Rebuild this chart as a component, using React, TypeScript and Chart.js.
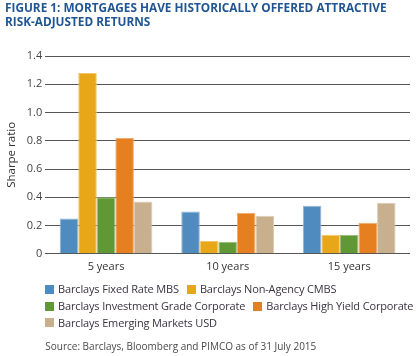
import React, { useEffect, useRef } from "react";
import { Chart, registerables } from "chart.js";

Chart.register(...registerables);

const categories = ["5 years", "10 years", "15 years"];
const seriesNames = [
  "Barclays Fixed Rate MBS",
  "Barclays Non-Agency CMBS",
  "Barclays Investment Grade Corporate",
  "Barclays High Yield Corporate",
  "Barclays Emerging Markets USD",
];
const fixedRateMBS = [0.25, 0.3, 0.34];
const nonAgencyCMBS = [1.28, 0.09, 0.135];
const investmentGradeCorp = [0.4, 0.085, 0.135];
const highYieldCorp = [0.82, 0.29, 0.22];
const emergingMarketsUSD = [0.37, 0.27, 0.36];
const seriesColors = ["#4f8bbf", "#e8a718", "#5f9834", "#e57f1f", "#c8b08e"];
const seriesEdgeColors = ["#8fb4d6", "#f1c76c", "#98bc7d", "#eeaa6b", "#ddcdb6"];
const yTicks = [0, 0.2, 0.4, 0.6, 0.8, 1.0, 1.2, 1.4];

const titleLines = [
  "FIGURE 1: MORTGAGES HAVE HISTORICALLY OFFERED ATTRACTIVE",
  "RISK-ADJUSTED RETURNS",
];
const sourceText = "Source: Barclays, Bloomberg and PIMCO as of 31 July 2015";

export default function App() {
  const ref = useRef<HTMLCanvasElement>(null);
  useEffect(() => {
    document.body.style.margin = "0";
    const values = [fixedRateMBS, nonAgencyCMBS, investmentGradeCorp, highYieldCorp, emergingMarketsUSD];
    const chart = new Chart(ref.current!, {
      type: "bar",
      data: {
        labels: categories,
        datasets: seriesNames.map((name, i) => ({
          label: name,
          data: values[i],
          backgroundColor: seriesColors[i],
          borderColor: seriesEdgeColors[i],
          borderWidth: 1,
          borderSkipped: "bottom",
          categoryPercentage: 0.763,
          barPercentage: 1.0,
        })),
      },
      options: {
        animation: false,
        responsive: false,
        maintainAspectRatio: false,
        layout: { padding: { left: 5, right: 8, top: 0, bottom: 0 } },
        plugins: {
          tooltip: { enabled: false },
          legend: { display: false },
          title: {
            display: true,
            text: titleLines,
            align: "start",
            color: "#1f5593",
            font: { family: "Open Sans", size: 11.8, weight: "bold", lineHeight: 14 / 11.8 },
            padding: { top: 2, bottom: 26 },
          },
          subtitle: {
            display: true,
            text: sourceText,
            position: "bottom",
            align: "start",
            fullSize: false,
            color: "#4a4a4a",
            font: { family: "Open Sans", size: 10, lineHeight: 1.2 },
            padding: { top: 62, bottom: 3 },
          },
        },
        scales: {
          x: {
            grid: { display: false, drawTicks: false },
            border: { display: false },
            ticks: { color: "#333", font: { family: "Open Sans", size: 11 }, padding: 6 },
          },
          y: {
            min: 0,
            max: 1.4,
            afterBuildTicks: (axis: any) => {
              axis.ticks = yTicks.map((v) => ({ value: v }));
            },
            ticks: {
              color: "#444",
              font: { family: "Open Sans", size: 11 },
              padding: 3,
              callback: (v: any) => (v === 0 ? "0" : Number(v).toFixed(1)),
            },
            grid: { color: "#555", lineWidth: 1, drawTicks: false },
            border: { display: false },
            title: {
              display: true,
              text: "Sharpe ratio",
              color: "#333",
              font: { family: "Open Sans", size: 11.5, lineHeight: 1.2 },
              padding: { top: 0, bottom: 5 },
            },
          },
        },
      },
    });
    return () => chart.destroy();
  }, []);
  return (
    <div style={{ position: "absolute", left: 0, top: 0, width: 418, height: 356, background: "#fff", overflow: "hidden" }}>
      <canvas ref={ref} width={418} height={356} style={{ display: "block", width: 418, height: 356 }} />
      <div
        style={{
          position: "absolute",
          left: 45,
          top: 281,
          width: 400,
          display: "flex",
          flexWrap: "wrap",
          fontFamily: "Open Sans",
          fontSize: 11,
          letterSpacing: "-0.15px",
          lineHeight: "16.75px",
          color: "#3a3340",
          whiteSpace: "nowrap",
        }}
      >
        {seriesNames.map((name, i) => (
          <div key={name} style={{ display: "flex", alignItems: "center", marginRight: 8 }}>
            <span
              style={{ display: "inline-block", width: 9, height: 9, background: seriesColors[i], marginRight: 4 }}
            />
            <span>{name}</span>
          </div>
        ))}
      </div>
    </div>
  );
}
